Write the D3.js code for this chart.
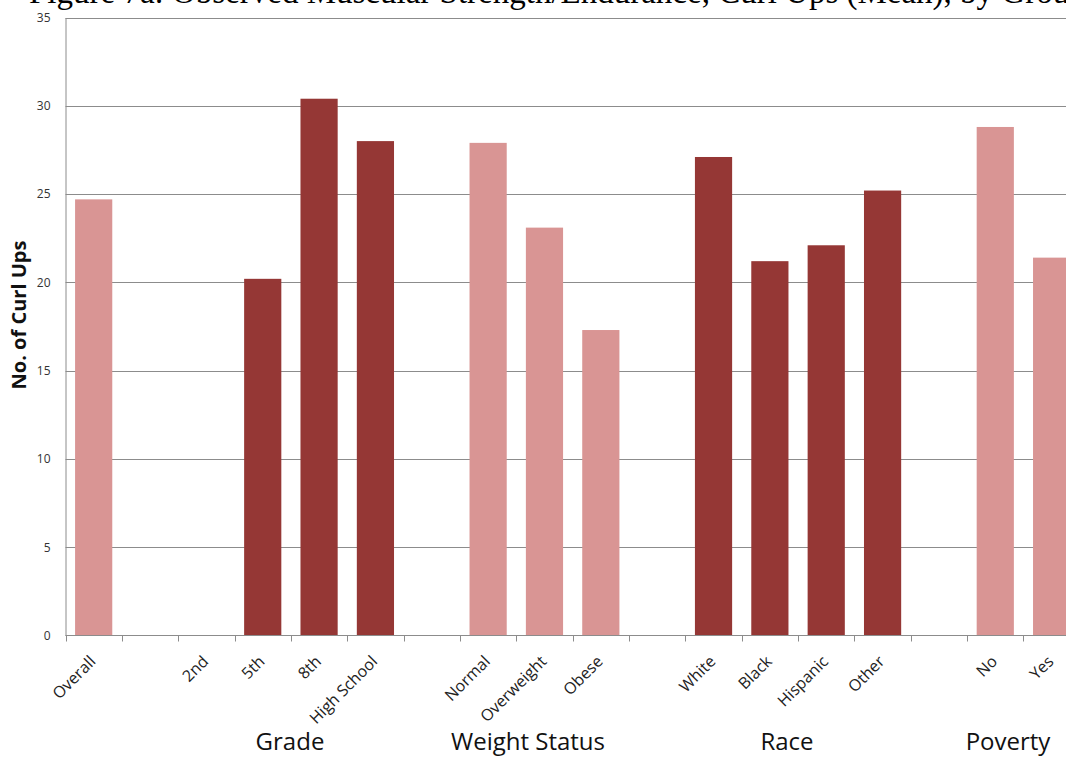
<!DOCTYPE html>
<html>
<head>
<meta charset="utf-8">
<script src="https://cdn.jsdelivr.net/npm/d3@7/dist/d3.min.js"></script>
<style>
  html, body { margin: 0; padding: 0; background: #ffffff; overflow: hidden; }
  svg { display: block; }
</style>
</head>
<body>
<svg id="chart" width="1066" height="757"></svg>
<script>
// ---- data ----
const categories = ["Overall", "", "2nd", "5th", "8th", "High School", " ", "Normal", "Overweight", "Obese", "  ",
                    "White", "Black", "Hispanic", "Other", "   ", "No", "Yes"];
const values = [24.7, null, null, 20.2, 30.4, 28.0, null, 27.9, 23.1, 17.3, null,
                27.1, 21.2, 22.1, 25.2, null, 28.8, 21.4];
const shade = ["light", null, "dark", "dark", "dark", "dark", null, "light", "light", "light", null,
               "dark", "dark", "dark", "dark", null, "light", "light"];
const groupNames = ["Grade", "Weight Status", "Race", "Poverty"];
const yTicks = [0, 5, 10, 15, 20, 25, 30, 35];
const titleText = "Figure 7a: Observed Muscular Strength/Endurance, Curl Ups (Mean), by Group";
const yLabel = "No. of Curl Ups";

// ---- layout ----
const colors = { light: "#D99594", dark: "#953735" };
const plotLeft = 65.5, step = 56.35;
const plotRight = plotLeft + step * 18;
const yTop = 17.5, yBottom = 635.5;
const groupLabelX = [290, 528, 787, 1008];

const svg = d3.select("#chart");

const x = d3.scaleBand()
  .domain(d3.range(categories.length))
  .range([plotLeft, plotRight])
  .paddingInner(0.34)
  .paddingOuter(0.17);

const y = d3.scaleLinear().domain([0, 35]).range([yBottom, yTop]);

// title (cut off at top, as in the reference)
svg.append("text")
  .attr("x", 29).attr("y", 3)
  .attr("font-family", "'Liberation Serif', 'Times New Roman', serif")
  .attr("font-size", 33)
  .attr("fill", "#000")
  .text(titleText);

// gridlines
svg.append("g")
  .selectAll("line")
  .data(yTicks.filter(d => d > 0))
  .join("line")
  .attr("x1", plotLeft).attr("x2", plotRight)
  .attr("y1", d => Math.round(y(d)) + 0.5).attr("y2", d => Math.round(y(d)) + 0.5)
  .attr("stroke", "#8c8c8c").attr("stroke-width", 1);

// y axis
const yAxis = d3.axisLeft(y).tickValues(yTicks).tickSize(0).tickPadding(15);
const yg = svg.append("g").attr("transform", `translate(${plotLeft},0)`).call(yAxis);
yg.select(".domain").attr("stroke", "#8c8c8c");
yg.selectAll("text")
  .attr("font-family", "'Open Sans', 'DejaVu Sans', sans-serif")
  .attr("font-size", 12).attr("fill", "#333");

// bars
svg.append("g")
  .selectAll("rect")
  .data(values.map((v, i) => ({ v, i })).filter(d => d.v !== null))
  .join("rect")
  .attr("x", d => x(d.i))
  .attr("width", x.bandwidth())
  .attr("y", d => y(d.v))
  .attr("height", d => y(0) - y(d.v))
  .attr("fill", d => colors[shade[d.i]]);

// x axis line and ticks at band boundaries
svg.append("line")
  .attr("x1", plotLeft).attr("x2", plotRight)
  .attr("y1", yBottom).attr("y2", yBottom)
  .attr("stroke", "#8c8c8c");
svg.append("g")
  .selectAll("line")
  .data(d3.range(categories.length + 1))
  .join("line")
  .attr("x1", i => Math.round(plotLeft + i * x.step()) + 0.5)
  .attr("x2", i => Math.round(plotLeft + i * x.step()) + 0.5)
  .attr("y1", yBottom).attr("y2", yBottom + 6)
  .attr("stroke", "#8c8c8c");

// category labels rotated -45
svg.append("g")
  .selectAll("text")
  .data(categories.map((c, i) => ({ c: c.trim(), i })).filter(d => d.c !== ""))
  .join("text")
  .attr("transform", d => `translate(${x(d.i) + x.bandwidth() / 2 + 3},${yBottom + 27}) rotate(-45)`)
  .attr("text-anchor", "end")
  .attr("font-family", "'Open Sans', 'DejaVu Sans', sans-serif")
  .attr("font-size", 16)
  .attr("fill", "#222")
  .text(d => d.c);

// group labels
svg.append("g")
  .selectAll("text")
  .data(groupNames)
  .join("text")
  .attr("x", (d, i) => groupLabelX[i])
  .attr("y", 750)
  .attr("text-anchor", "middle")
  .attr("font-family", "'Open Sans', 'DejaVu Sans', sans-serif")
  .attr("font-size", 24)
  .attr("fill", "#111")
  .text(d => d);

// y label
svg.append("text")
  .attr("transform", `translate(26,315) rotate(-90)`)
  .attr("text-anchor", "middle")
  .attr("font-family", "'Open Sans', 'DejaVu Sans', sans-serif")
  .attr("font-weight", "bold")
  .attr("font-size", 20)
  .attr("fill", "#111")
  .text(yLabel);
</script>
</body>
</html>
